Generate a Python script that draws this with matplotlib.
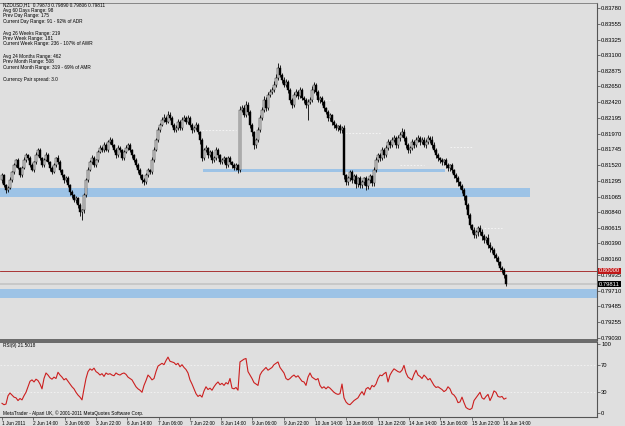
import numpy as np
import matplotlib
matplotlib.use("Agg")
import matplotlib.pyplot as plt

plt.rcParams['font.family'] = ['Liberation Sans', 'DejaVu Sans']

# NZDUSD H1 closes, in points (1e-5)
closes = [
81375,81231,81159,81188,81303,81418,81519,81591,81476,81375,
81476,81591,81663,81620,81519,81447,81562,81663,81735,81620,
81519,81591,81663,81562,81476,81418,81519,81620,81562,81447,
81375,81303,81332,81231,81130,81087,81015,81044,80943,80842,
80871,81087,81303,81447,81562,81620,81519,81591,81706,81764,
81735,81807,81735,81850,81879,81807,81735,81663,81764,81735,
81620,81706,81764,81807,81735,81663,81591,81519,81447,81375,
81303,81274,81375,81447,81418,81591,81735,81879,82023,82095,
82167,82196,82138,82239,82196,82095,82023,82052,82138,82052,
82167,82196,82138,82196,82095,82023,82052,82095,81994,81879,
81620,81735,81764,81663,81706,81591,81620,81735,81663,81562,
81591,81620,81519,81620,81562,81519,81476,81519,81447,82311,
82340,82239,82383,82282,82095,81994,81807,81879,82023,82196,
82311,82455,82340,82527,82570,82599,82671,82772,82916,82815,
82743,82671,82714,82599,82455,82383,82527,82570,82513,82599,
82484,82455,82383,82426,82455,82599,82671,82570,82455,82484,
82426,82340,82282,82196,82239,82138,82095,82052,82081,82023,
82052,81375,81274,81332,81418,81303,81361,81245,81332,81231,
81274,81332,81217,81303,81361,81260,81447,81591,81663,81620,
81735,81663,81764,81850,81807,81879,81908,81807,81908,81951,
81994,81908,81807,81735,81764,81850,81807,81879,81908,81850,
81879,81807,81850,81908,81879,81807,81735,81663,81620,81591,
81562,81591,81519,81476,81519,81447,81375,81332,81274,81217,
81159,81073,80943,80799,80655,80583,80511,80554,80612,80554,
80497,80439,80468,80367,80324,80295,80223,80180,80122,80036,
80007,79935,79811,
]
first_open = 81300

upper_wick = [
30,20,15,25,40,22,35,18,28,20,
25,40,30,18,22,35,20,45,30,25,
18,30,40,22,15,28,35,20,45,25,
20,18,30,22,15,25,20,30,18,25,
20,35,30,40,25,45,30,20,35,40,
30,50,25,35,40,30,20,25,45,30,
20,35,40,30,25,20,18,22,30,25,
20,30,25,35,20,40,45,30,50,35,
40,55,30,60,40,35,30,45,40,30,
45,50,35,40,30,25,35,40,30,20,
25,30,40,20,35,25,30,45,30,20,
35,30,20,25,30,20,25,30,20,60,
50,40,55,45,30,25,20,35,40,50,
45,60,40,50,45,40,55,60,70,40,
35,45,40,30,25,30,45,40,35,45,
30,25,35,40,50,55,45,30,25,35,
30,25,20,25,30,20,25,30,20,25,
30,40,20,25,30,35,25,30,20,25,
30,20,25,30,35,20,40,45,30,35,
40,35,45,50,35,40,45,30,40,45,
55,40,30,25,30,40,35,45,40,35,
40,45,40,50,35,60,40,30,25,20,
25,20,30,25,20,25,20,25,30,20,
25,30,20,25,30,20,40,35,30,45,
40,30,35,55,40,35,30,25,30,20,
25,30,20,
]
lower_wick = [
35,30,40,25,20,30,25,35,20,30,
25,20,30,35,25,20,30,25,20,35,
30,25,20,30,40,25,20,30,25,35,
30,40,35,30,45,40,35,50,45,60,
115,40,30,25,20,30,35,25,30,20,
25,30,20,35,25,30,35,40,25,30,
35,25,20,30,35,40,30,35,40,45,
50,45,30,25,35,30,25,20,30,25,
20,25,30,20,35,30,25,30,35,25,
30,20,25,30,35,40,30,25,35,60,
40,30,35,40,30,45,35,30,40,35,
30,40,45,35,30,40,35,30,45,30,
25,35,30,40,45,50,60,45,35,30,
25,30,40,25,30,25,30,35,25,30,
40,35,30,45,50,40,30,35,40,30,
35,40,45,220,35,30,40,40,35,45,
40,45,35,40,50,45,40,35,40,45,
40,60,45,40,50,45,40,55,45,40,
50,45,55,40,45,50,40,30,35,40,
35,40,30,35,40,30,35,40,45,40,
35,40,45,50,40,35,40,30,35,40,
30,35,40,35,45,40,35,40,45,50,
40,45,50,45,40,50,45,55,50,45,
50,60,55,45,50,40,45,50,55,45,
60,50,45,40,55,45,50,45,40,35,
45,40,35,
]

rsi = [
14,12,13,25,29,26,23,22,18,21,
19,25,30,38,46,48,45,49,47,42,
35,50,58,55,51,49,52,50,59,55,
52,48,50,46,42,38,35,30,26,23,
19,35,50,60,64,62,65,60,58,55,
57,53,58,56,57,55,54,58,56,55,
57,58,56,52,50,48,43,38,35,33,
30,40,47,55,52,48,50,60,68,70,
72,70,76,81,75,74,73,70,72,67,
70,66,63,58,48,42,35,28,24,26,
23,32,38,34,36,33,38,42,45,41,
43,40,44,42,50,36,35,37,33,74,
76,78,79,60,55,50,44,42,40,55,
60,63,66,62,64,66,70,72,74,66,
62,58,50,48,50,53,55,52,54,50,
46,45,40,52,58,52,50,48,50,40,
36,38,35,38,36,33,30,28,27,28,
42,22,16,13,12,15,18,20,22,27,
31,26,35,37,34,40,38,42,50,55,
54,57,59,45,55,60,64,62,60,59,
62,69,58,52,50,48,56,62,55,53,
50,55,52,48,50,45,40,37,38,36,
34,31,33,38,35,28,26,22,15,16,
23,15,8,6,5,7,18,22,26,30,
22,20,24,27,18,24,32,30,24,23,
24,20,21.5,
]

# support / resistance zones (price points)
zone_main = (81058, 81188, 530)     # low, high, right edge px
zone_low = (79604, 79733, 597)
zone_thin = (81418, 81461, 203, 445)
level_price = 80000
bid_price = 79811
dash_levels = [(100, 117, 82023), (155, 164, 82455), (170, 189, 81980),
               (199, 211, 81519), (224, 235, 81778), (241, 250, 80612)]

price_ticks = [0.83780, 0.83555, 0.83325, 0.83100, 0.82875, 0.82650, 0.82420,
               0.82195, 0.81970, 0.81745, 0.81520, 0.81295, 0.81065, 0.80840,
               0.80615, 0.80390, 0.80160, 0.79935, 0.79710, 0.79485, 0.79255,
               0.79030]
time_labels = ["1 Jun 2011", "2 Jun 14:00", "3 Jun 06:00", "3 Jun 22:00",
               "6 Jun 14:00", "7 Jun 06:00", "7 Jun 22:00", "8 Jun 14:00",
               "9 Jun 06:00", "9 Jun 22:00", "10 Jun 14:00", "13 Jun 06:00",
               "13 Jun 22:00", "14 Jun 14:00", "15 Jun 06:00", "15 Jun 22:00",
               "16 Jun 14:00"]

info_lines = [
    ("NZDUSD,H1  0.79873 0.79890 0.79806 0.79811", 5),
    ("Avg 60 Days Range: 98", 10.7),
    ("Prev Day Range: 175", 16),
    ("Current Day Range: 91 - 92% of ADR", 21.3),
    ("Avg 26 Weeks Range: 219", 33.3),
    ("Prev Week Range: 181", 38.7),
    ("Current Week Range: 236 - 107% of AWR", 44),
    ("Avg 24 Months Range: 462", 56.7),
    ("Prev Month Range: 508", 62),
    ("Current Month Range: 319 - 69% of AMR", 67.3),
    ("Currency Pair spread: 3.0", 79.3),
]

W, H = 625, 426
BG = "#dfdfdf"
fs = 3.4
fs_ax = 4.2

c = np.array(closes) / 1e5
o = np.array([first_open] + closes[:-1]) / 1e5
hi = np.maximum(o, c) + np.array(upper_wick) / 1e5
lo = np.minimum(o, c) - np.array(lower_wick) / 1e5
idx = np.arange(len(c))

fig = plt.figure(figsize=(W / 100, H / 100), dpi=100, facecolor=BG)

def px_box(x0, y0, x1, y1):
    return [x0 / W, 1 - y1 / H, (x1 - x0) / W, (y1 - y0) / H]

# bar i sits at x = 2 + 2*i px
def bx(px):
    return (px - 2) / 2.0

ax = fig.add_axes(px_box(0, 3, 597, 340))
ax.set_facecolor(BG)
ax.set_xlim(bx(0), bx(597))
ax.set_ylim(0.83780 - 332 * 0.000144, 0.83780 + 5 * 0.000144)

ax.add_patch(plt.Rectangle((bx(0), zone_main[0] / 1e5), bx(zone_main[2]) - bx(0),
                           (zone_main[1] - zone_main[0]) / 1e5, color="#9dc3e6", lw=0, zorder=1))
ax.add_patch(plt.Rectangle((bx(0), zone_low[0] / 1e5), bx(zone_low[2]) - bx(0),
                           (zone_low[1] - zone_low[0]) / 1e5, color="#9dc3e6", lw=0, zorder=1))
ax.add_patch(plt.Rectangle((bx(zone_thin[2]), zone_thin[0] / 1e5), bx(zone_thin[3]) - bx(zone_thin[2]),
                           (zone_thin[1] - zone_thin[0]) / 1e5, color="#9dc3e6", lw=0, zorder=1))
for a, b, p in dash_levels:
    ax.plot([a, b], [p / 1e5, p / 1e5], color="#f8f8f8", lw=0.6, ls=(0, (2, 2)), zorder=1.5)

ax.axhline(bid_price / 1e5, color="#c6c6c6", lw=1.3, zorder=1.2)
ax.axhline(level_price / 1e5, color="#a01818", lw=0.6, zorder=1.3)

ax.vlines(idx, lo, hi, color="black", lw=0.6, zorder=2)
bull = c >= o
ax.bar(idx[bull], (c - o)[bull], bottom=o[bull], width=0.75, color="#d8d8d8",
       edgecolor="black", lw=0.3, zorder=3)
ax.bar(idx[~bull], (o - c)[~bull], bottom=c[~bull], width=0.75, color="black",
       edgecolor="black", lw=0.3, zorder=3)

ax.yaxis.tick_right()
ax.set_yticks(price_ticks)
ax.set_yticklabels([f"{t:.5f}" for t in price_ticks])
ax.tick_params(axis="y", labelsize=fs_ax, length=2, width=0.5, pad=1, color="#444444")
ax.set_xticks([])
ax.spines["left"].set_visible(False)
ax.spines["right"].set_color("#555555")
ax.spines["right"].set_linewidth(0.8)
ax.spines["top"].set_color("#777777")
ax.spines["top"].set_linewidth(0.6)
ax.spines["bottom"].set_color("#555555")
ax.spines["bottom"].set_linewidth(1.2)

# RSI panel
ax2 = fig.add_axes(px_box(0, 342, 597, 417))
ax2.set_facecolor(BG)
ax2.set_xlim(bx(0), bx(597))
ax2.set_ylim(-4 / 0.69, 100 + 2 / 0.69)
ax2.axhline(70, color="#f4f4f4", lw=0.6, ls=(0, (2, 2)))
ax2.axhline(30, color="#f4f4f4", lw=0.6, ls=(0, (2, 2)))
ax2.plot(idx, rsi, color="#cc1f1f", lw=0.8)
ax2.yaxis.tick_right()
ax2.set_yticks([100, 70, 30, 0])
ax2.tick_params(axis="y", labelsize=fs_ax, length=2, width=0.5, pad=1, color="#444444")
tick_pos = np.arange(len(time_labels)) * 15.65
ax2.set_xticks(tick_pos)
ax2.set_xticklabels(time_labels, ha="left")
ax2.tick_params(axis="x", labelsize=fs, length=2, width=0.5, pad=1, color="#444444")
ax2.spines["left"].set_visible(False)
for s in ["right", "bottom", "top"]:
    ax2.spines[s].set_color("#555555")
    ax2.spines[s].set_linewidth(0.8)
ax2.spines["top"].set_linewidth(1.2)

for txt, y in info_lines:
    fig.text(3 / W, 1 - y / H, txt, fontsize=fs, va="center", ha="left")
fig.text(3 / W, 1 - 345 / H, "RSI(9) 21.5018", fontsize=fs, va="center")
fig.text(3 / W, 1 - 413 / H, "MetaTrader - Alpari UK, \u00a9 2001-2011 MetaQuotes Software Corp.",
         fontsize=fs, va="center")

fig.text(599 / W, 1 - 271 / H, "0.80000", fontsize=fs_ax, va="center", color="white",
         bbox=dict(boxstyle="square,pad=0.15", fc="#c01818", ec="none"))
fig.text(599 / W, 1 - 284 / H, "0.79811", fontsize=fs_ax, va="center", color="white",
         bbox=dict(boxstyle="square,pad=0.15", fc="black", ec="none"))

fig.savefig("out.png", dpi=100, facecolor=BG)
